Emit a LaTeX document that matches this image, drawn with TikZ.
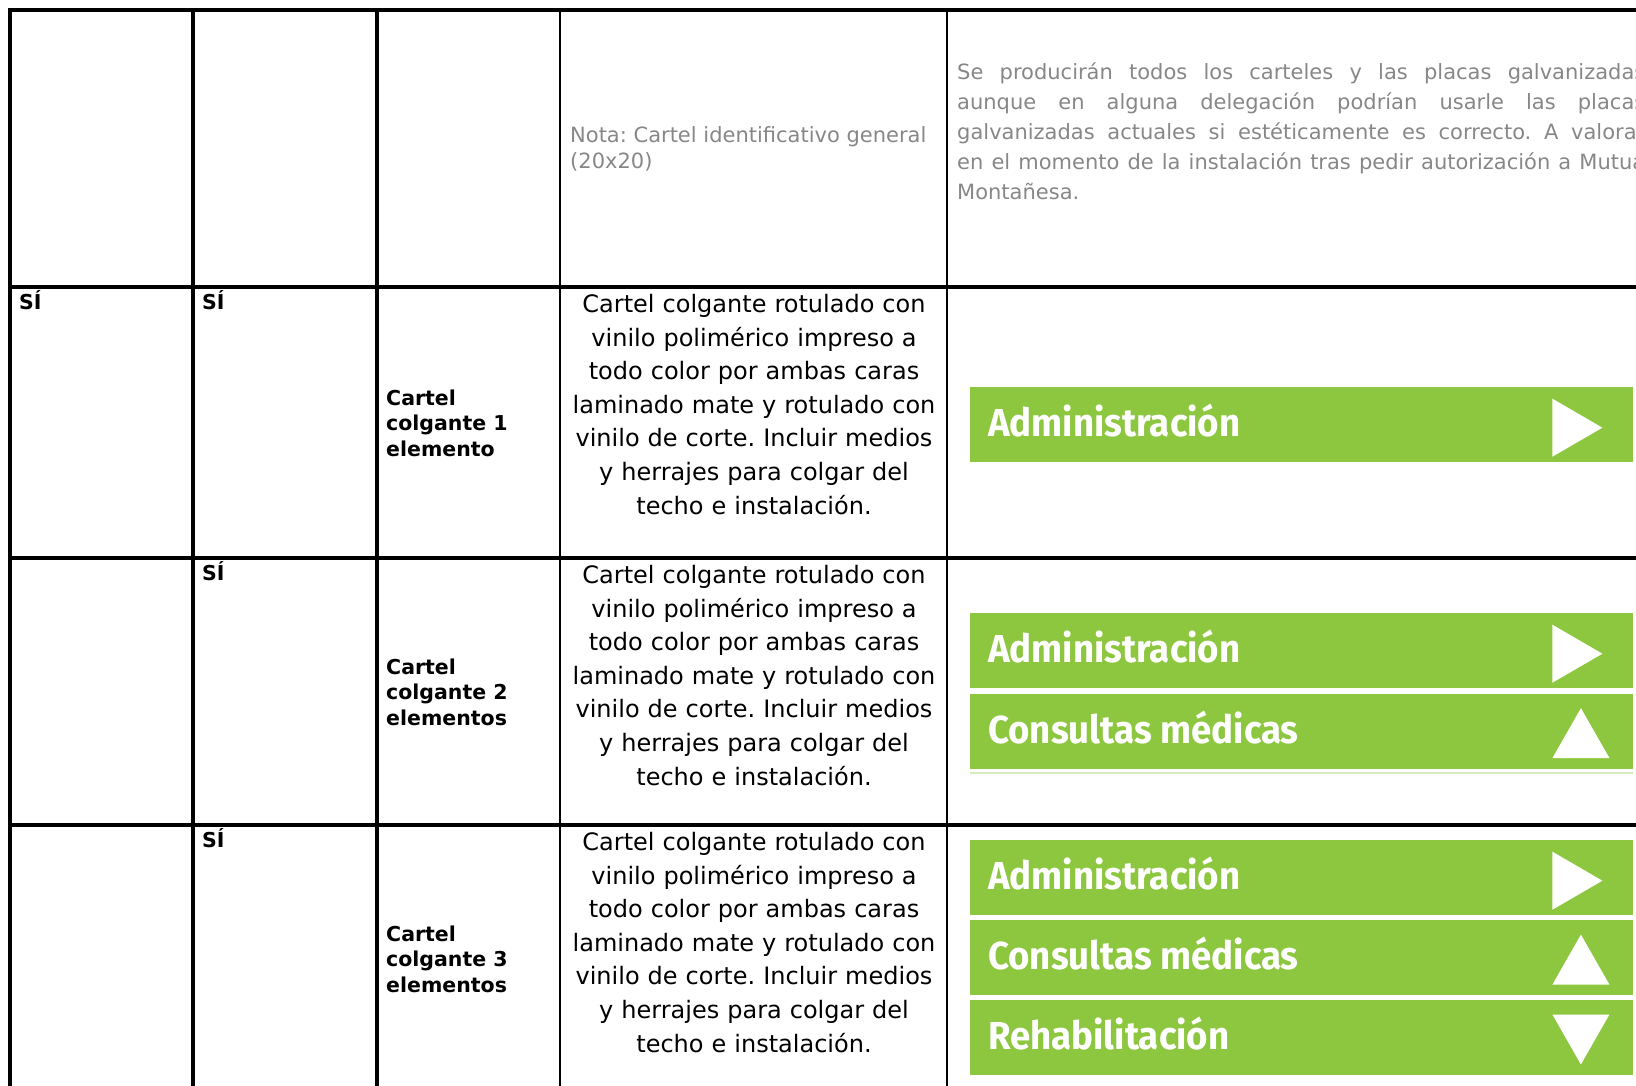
\documentclass[tikz,border=0pt]{standalone}
\usepackage{fontspec}
\usepackage{xcolor}
\usetikzlibrary{positioning, calc}

\newfontfamily\cellfont{DejaVu Sans}
\newfontfamily\bannerfont[FakeStretch=0.94]{Fira Sans}
\definecolor{bannergreen}{HTML}{8DC63F}
\definecolor{notegray}{HTML}{878787}

\newcommand{\cartelnote}{Cartel colgante rotulado con\\vinilo polimérico impreso a\\todo color por ambas caras\\laminado mate y rotulado con\\vinilo de corte. Incluir medios\\y herrajes para colgar del\\techo e instalación.}

\begin{document}
\frenchspacing
\begin{tikzpicture}[x=1pt, y=-1pt,
    rule/.style={line width=3.2pt, line cap=rect},
    thinrule/.style={line width=2.5pt, line cap=rect},
    yes/.style={anchor=base west, inner sep=0pt, font=\cellfont\bfseries\fontsize{20.5}{25.5}\selectfont},
    itemname/.style={anchor=west, inner sep=0pt, align=left, font=\cellfont\bfseries\fontsize{20.5}{25.5}\selectfont},
    desc/.style={anchor=north, inner sep=0pt, text width=385pt, align=center, font=\cellfont\fontsize{24}{33.6}\selectfont},
    note/.style={inner sep=0pt, text=notegray},
    banner/.style={anchor=north west, fill=bannergreen, minimum width=663pt, minimum height=75pt, inner sep=0pt},
    bannertext/.style={anchor=base west, inner sep=0pt, text=white, font=\bannerfont\bfseries\fontsize{39}{39}\selectfont},
    tri right/.pic={\fill[white] (-81,-26) -- (-81,32) -- (-31,3) -- cycle;},
    tri up/.pic={\fill[white] (-81,27) -- (-24,27) -- (-52.5,-23) -- cycle;},
    tri down/.pic={\fill[white] (-81,-23) -- (-24,-23) -- (-52.5,27) -- cycle;}]

  \useasboundingbox (0,0) rectangle (1636,1086);
  \clip (0,0) rectangle (1636,1086);

  % table rules
  \foreach \y in {10,287,558,825}
    \draw[rule] (10,\y) -- (1645,\y);
  \foreach \x in {10,193,377}
    \draw[rule] (\x,10) -- (\x,1100);
  \foreach \x in {560,947}
    \draw[thinrule] (\x,10) -- (\x,1100);

  % first row: notes
  \node[note, anchor=west, align=left, font=\cellfont\fontsize{21}{26}\selectfont] (nota) at (570,149)
    {Nota: Cartel identificativo general\\(20x20)};
  \node[note, anchor=north west, text width=688pt, align=justify, font=\cellfont\fontsize{21}{30}\selectfont] (obs) at (957,63)
    {Se producirán todos los carteles y las placas galvanizadas\linebreak
     aunque en alguna delegación podrían usarle las placas\linebreak
     galvanizadas actuales si estéticamente es correcto. A valorar\linebreak
     en el momento de la instalación tras pedir autorización a Mutua\linebreak
     Montañesa.};

  % SI marks
  \node[yes] (si1a) at (19,309) {SÍ};
  \node[yes] (si1b) at (202,309) {SÍ};
  \node[yes] (si2b) at (202,580) {SÍ};
  \node[yes] (si3b) at (202,847) {SÍ};

  % item names
  \node[itemname] (item1) at (386,423) {Cartel\\colgante 1\\elemento};
  \node[itemname] (item2) at (386,692) {Cartel\\colgante 2\\elementos};
  \node[itemname] (item3) at (386,959) {Cartel\\colgante 3\\elementos};

  % descriptions
  \node[desc] (desc1) at (754,294) {\cartelnote};
  \node[desc] (desc2) at (754,565) {\cartelnote};
  \node[desc] (desc3) at (754,832) {\cartelnote};

  % one element
  \node[banner] (a1) at (970,387) {};
  \node[bannertext] (a1t) at ($(a1.west)+(18,12)$) {Administración};
  \pic at (a1.east) {tri right};

  % two elements
  \node[banner] (b1) at (970,613) {};
  \node[banner, below=5pt of b1] (b2) {};
  \node[bannertext] (b1t) at ($(b1.west)+(18,12)$) {Administración};
  \node[bannertext] (b2t) at ($(b2.west)+(18,12)$) {Consultas médicas};
  \pic at (b1.east) {tri right};
  \pic at (b2.east) {tri up};
  \draw[bannergreen!35, line width=1.5pt] ($(b2.south west)+(0,4)$) -- ($(b2.south east)+(0,4)$);

  % three elements
  \node[banner] (c1) at (970,840) {};
  \node[banner, below=4.5pt of c1] (c2) {};
  \node[banner, below=4.5pt of c2] (c3) {};
  \node[bannertext] (c1t) at ($(c1.west)+(18,12)$) {Administración};
  \node[bannertext] (c2t) at ($(c2.west)+(18,12)$) {Consultas médicas};
  \node[bannertext] (c3t) at ($(c3.west)+(18,12)$) {Rehabilitación};
  \pic at (c1.east) {tri right};
  \pic at (c2.east) {tri up};
  \pic at (c3.east) {tri down};
\end{tikzpicture}
\end{document}
